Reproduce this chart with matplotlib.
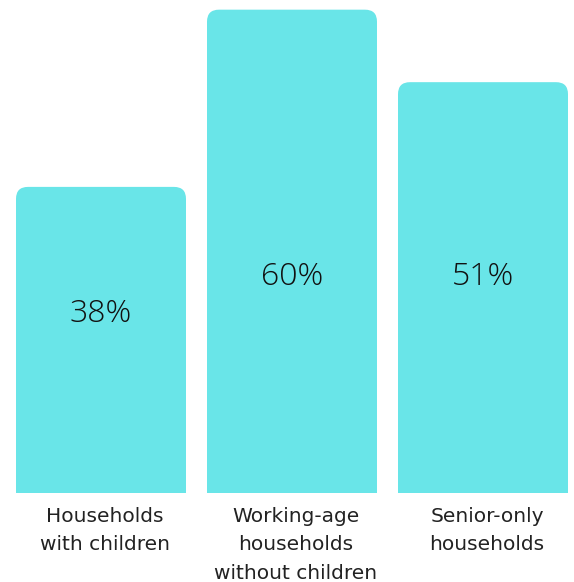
import matplotlib
matplotlib.use("Agg")
import matplotlib.pyplot as plt
from matplotlib.patches import FancyBboxPatch

categories = ["Households\nwith children", "Working-age\nhouseholds\nwithout children", "Senior-only\nhouseholds"]
values = [38, 60, 51]

COLOR = "#69E5E8"
W, H, DPI = 574, 582, 100

fig = plt.figure(figsize=(W / DPI, H / DPI), dpi=DPI)
# axes area in pixels: x 16..568, y 0..493 (from top)
ax = fig.add_axes([16 / W, (H - 493) / H, 552 / W, 493 / H])
ax.set_xlim(-0.445, 2.445)
ax.set_ylim(0, 61.2)
ax.axis("off")

px_x = 552 / 2.89
px_y = 493 / 61.2
rad = 12 / px_x
width = 170 / px_x

for i, (cat, v) in enumerate(zip(categories, values)):
    # rounded box extends below 0 so the bottom corners get clipped square
    box = FancyBboxPatch((i - width / 2, -10), width, v + 10,
                         boxstyle=f"round,pad=0,rounding_size={rad}",
                         mutation_aspect=px_x / px_y,
                         fc=COLOR, ec="none", clip_on=True)
    ax.add_patch(box)
    ly = min(v - 127 / px_y, 216 / px_y)
    ax.text(i, ly, f"{v}%", ha="center", va="center", fontsize=23,
            family="Open Sans", fontweight=300, color="#111111")
    ax.text(i + 4 / px_x, -14 / px_y, cat, ha="center", va="top", fontsize=14.5,
            color="#222222", linespacing=1.63, clip_on=False)

fig.savefig("out.png", dpi=DPI)
